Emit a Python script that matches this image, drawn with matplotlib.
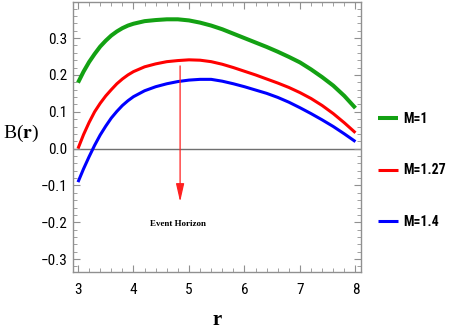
import matplotlib
matplotlib.use("Agg")
import matplotlib.pyplot as plt
from matplotlib.ticker import MultipleLocator, FuncFormatter

r = [3.0, 3.1, 3.2, 3.3, 3.4, 3.5, 3.6, 3.7, 3.8, 3.9, 4.0,
     4.2, 4.4, 4.6, 4.8, 5.0, 5.2, 5.4, 5.6, 5.8, 6.0,
     6.2, 6.4, 6.6, 6.8, 7.0, 7.2, 7.4, 7.6, 7.8, 8.0]
B_M1 = [0.179, 0.209, 0.235, 0.257, 0.277, 0.293, 0.307, 0.318, 0.327, 0.334, 0.339,
        0.346, 0.349, 0.351, 0.351, 0.348, 0.342, 0.334, 0.324, 0.312, 0.300,
        0.288, 0.276, 0.263, 0.249, 0.234, 0.215, 0.194, 0.171, 0.143, 0.110]
B_M127 = [0.000, 0.038, 0.071, 0.100, 0.123, 0.143, 0.160, 0.176, 0.189, 0.200, 0.209,
          0.222, 0.230, 0.236, 0.239, 0.241, 0.240, 0.236, 0.229, 0.220, 0.210,
          0.200, 0.189, 0.178, 0.166, 0.152, 0.136, 0.117, 0.095, 0.070, 0.043]
B_M14 = [-0.091, -0.055, -0.022, 0.009, 0.037, 0.061, 0.083, 0.101, 0.117, 0.130, 0.141,
         0.157, 0.168, 0.176, 0.182, 0.186, 0.188, 0.188, 0.183, 0.176, 0.168,
         0.159, 0.150, 0.139, 0.126, 0.111, 0.095, 0.078, 0.060, 0.040, 0.019]
labels = ["M=1", "M=1.27", "M=1.4"]
horizon_r = 4.84
annot_text = "Event Horizon"

sans = ["Roboto Condensed", "DejaVu Sans"]

fig = plt.figure(figsize=(4.49, 3.32), dpi=100)
ax = fig.add_axes([73/449, 60/332, (361-73)/449, (330-60)/332])

colors = ["#13a113", "#ff0000", "#0000ff"]
lws = [2.9, 2.2, 2.2]
lines = []
for y, c, lw, lab in zip([B_M1, B_M127, B_M14], colors, lws, labels):
    l, = ax.plot(r, y, color=c, lw=lw, label=lab, solid_capstyle="butt", solid_joinstyle="round")
    lines.append(l)

ax.axhline(0, color="#707070", lw=1.0, zorder=0)

ax.set_xlim(2.91, 8.1)
ax.set_ylim(-0.335, 0.398)

ax.xaxis.set_major_locator(MultipleLocator(1))
ax.xaxis.set_minor_locator(MultipleLocator(0.2))
ax.yaxis.set_major_locator(MultipleLocator(0.1))
ax.yaxis.set_minor_locator(MultipleLocator(0.02))
ax.tick_params(which="both", direction="in", top=True, right=True, color="#909090")
ax.tick_params(which="major", length=5, width=0.8)
ax.tick_params(which="minor", length=3, width=0.6)
ax.tick_params(axis="x", pad=8)
ax.tick_params(axis="y", pad=4)
ax.yaxis.set_major_formatter(FuncFormatter(lambda v, p: f"{v:.1f}".replace("-", "\u2212") if abs(v) > 1e-9 else "0.0"))
for lab in ax.get_xticklabels() + ax.get_yticklabels():
    lab.set_fontfamily(sans)
    lab.set_fontsize(11)
for s in ax.spines.values():
    s.set_color("#909090")
    s.set_linewidth(1.0)

ax.annotate("", xy=(horizon_r, -0.152), xytext=(horizon_r, 0.232),
            arrowprops=dict(arrowstyle="-|>,head_length=1.1,head_width=0.25", color="#ff2020", lw=0.9))
ax.text(horizon_r - 0.04, -0.205, annot_text, ha="center", va="center",
        fontfamily="Liberation Serif", fontweight="bold", fontsize=6.5)

fig.text(3/449, 1 - 133/332, r"B($\mathbf{r}$)", fontfamily="Liberation Serif", fontsize=14,
         ha="left", va="center", math_fontfamily="stix")
fig.text(217/449, 1 - 320/332, "r", fontfamily="Liberation Serif", fontweight="bold",
         fontsize=15, ha="center", va="center")

leg = fig.legend(handles=lines, labels=labels, loc="upper left",
                 bbox_to_anchor=(378/449, 1 - 112/332), borderaxespad=0, borderpad=0,
                 frameon=False, handlelength=1.44, handletextpad=0.4, labelspacing=2.7,
                 prop=dict(family=sans, weight="bold", size=10))

fig.savefig("out.png", dpi=100)
